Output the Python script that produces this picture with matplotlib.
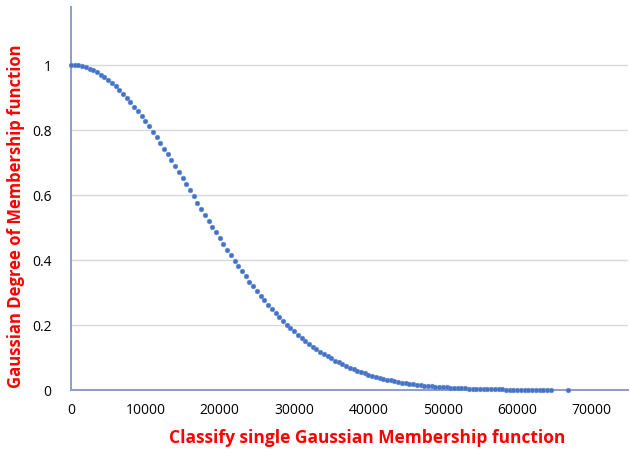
import matplotlib
matplotlib.use('Agg')
import matplotlib.pyplot as plt
from matplotlib import rcParams

rcParams['font.family'] = ['Open Sans', 'DejaVu Sans']

# membership values (x in steps of 500, plus the last lone point)
x_vals = [
    0, 500, 1000, 1500, 2000, 2500, 3000, 3500, 4000, 4500,
    5000, 5500, 6000, 6500, 7000, 7500, 8000, 8500, 9000, 9500,
    10000, 10500, 11000, 11500, 12000, 12500, 13000, 13500, 14000, 14500,
    15000, 15500, 16000, 16500, 17000, 17500, 18000, 18500, 19000, 19500,
    20000, 20500, 21000, 21500, 22000, 22500, 23000, 23500, 24000, 24500,
    25000, 25500, 26000, 26500, 27000, 27500, 28000, 28500, 29000, 29500,
    30000, 30500, 31000, 31500, 32000, 32500, 33000, 33500, 34000, 34500,
    35000, 35500, 36000, 36500, 37000, 37500, 38000, 38500, 39000, 39500,
    40000, 40500, 41000, 41500, 42000, 42500, 43000, 43500, 44000, 44500,
    45000, 45500, 46000, 46500, 47000, 47500, 48000, 48500, 49000, 49500,
    50000, 50500, 51000, 51500, 52000, 52500, 53000, 53500, 54000, 54500,
    55000, 55500, 56000, 56500, 57000, 57500, 58000, 58500, 59000, 59500,
    60000, 60500, 61000, 61500, 62000, 62500, 63000, 63500, 64000, 64500,
    66800,
]
y_vals = [
    1.0000, 0.9995, 0.9981, 0.9957, 0.9924, 0.9882, 0.9830, 0.9769, 0.9700, 0.9622,
    0.9535, 0.9440, 0.9337, 0.9227, 0.9109, 0.8984, 0.8852, 0.8714, 0.8570, 0.8420,
    0.8265, 0.8105, 0.7941, 0.7773, 0.7601, 0.7426, 0.7248, 0.7067, 0.6884, 0.6699,
    0.6514, 0.6327, 0.6140, 0.5953, 0.5766, 0.5580, 0.5394, 0.5210, 0.5027, 0.4846,
    0.4667, 0.4490, 0.4316, 0.4145, 0.3977, 0.3812, 0.3650, 0.3492, 0.3337, 0.3187,
    0.3040, 0.2897, 0.2759, 0.2624, 0.2494, 0.2367, 0.2245, 0.2128, 0.2014, 0.1905,
    0.1800, 0.1700, 0.1603, 0.1510, 0.1421, 0.1337, 0.1256, 0.1179, 0.1105, 0.1035,
    0.0969, 0.0906, 0.0847, 0.0790, 0.0737, 0.0686, 0.0639, 0.0594, 0.0550, 0.0512,
    0.0474, 0.0439, 0.0407, 0.0376, 0.0347, 0.0320, 0.0295, 0.0272, 0.0250, 0.0230,
    0.0211, 0.0194, 0.0178, 0.0163, 0.0149, 0.0136, 0.0124, 0.0113, 0.0103, 0.0094,
    0.0085, 0.0078, 0.0070, 0.0064, 0.0058, 0.0052, 0.0047, 0.0043, 0.0039, 0.0035,
    0.0031, 0.0028, 0.0025, 0.0023, 0.0021, 0.0018, 0.0016, 0.0015, 0.0013, 0.0012,
    0.0011, 0.0010, 0.0008, 0.0008, 0.0007, 0.0006, 0.0005, 0.0005, 0.0004, 0.0004,
    0.0002,
]
x_ticks = [0, 10000, 20000, 30000, 40000, 50000, 60000, 70000]
y_ticks = [0, 0.2, 0.4, 0.6, 0.8, 1]
y_labels = ['0', '0.2', '0.4', '0.6', '0.8', '1']

fig = plt.figure(figsize=(6.3, 4.52), dpi=100)
ax = fig.add_axes([71 / 630, 61 / 452, 557 / 630, 383 / 452])

ax.plot(x_vals, y_vals, linestyle='none', marker='o', markersize=3.4,
        markerfacecolor='#4472C4', markeredgecolor='#6a8fd6', markeredgewidth=0.4,
        zorder=3, clip_on=False)

ax.set_xlim(0, 74900)
ax.set_ylim(0, 1.178)
ax.set_xticks(x_ticks)
ax.set_xticklabels([str(v) for v in x_ticks])
ax.set_yticks(y_ticks)
ax.set_yticklabels(y_labels)
ax.tick_params(axis='both', length=0, labelsize=10, colors='black')
ax.tick_params(axis='x', pad=9)
ax.tick_params(axis='y', pad=14)

ax.grid(axis='y', color='#d9d9d9', linewidth=1.0, zorder=0)
ax.set_axisbelow(True)
for side in ['top', 'right']:
    ax.spines[side].set_visible(False)
for side in ['left', 'bottom']:
    ax.spines[side].set_color('#8e9bc9')
    ax.spines[side].set_linewidth(1.4)

fig.text(367 / 630, 1 - 438 / 452, 'Classify single Gaussian Membership function',
         color='#ff0000', fontweight='bold', fontsize=12.5, ha='center', va='center')
fig.text(16 / 630, 1 - 216 / 452, 'Gaussian Degree of Membership function',
         color='#ff0000', fontweight='bold', fontsize=12, ha='center', va='center',
         rotation=90)

fig.savefig('out.png', dpi=100)
